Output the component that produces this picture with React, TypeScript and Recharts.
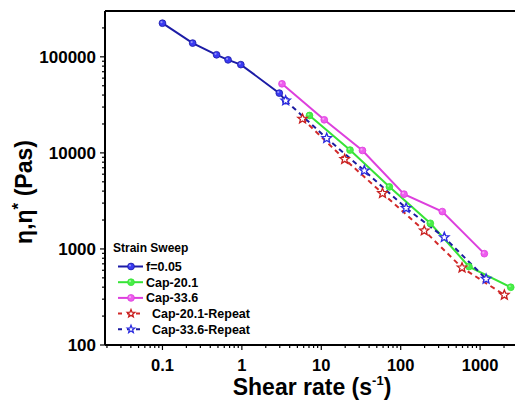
import React from 'react'
import { LineChart, Line, XAxis, YAxis, ReferenceLine, Label } from 'recharts'

// shear rate (1/s) and viscosity (Pas)
const fRate = [0.1, 0.24, 0.48, 0.67, 0.97, 2.96, 3.56]
const fVisc = [224000, 139000, 105000, 93000, 83000, 41900, 35000]

const cap20Rate = [7.1, 23, 72, 236, 724, 2430]
const cap20Visc = [24500, 10700, 4430, 1850, 655, 399]

const cap33Rate = [3.2, 10.9, 33, 110, 334, 1130]
const cap33Visc = [52400, 22100, 10600, 3720, 2450, 893]

const cap20RepRate = [5.8, 19.7, 59, 198, 592, 2020]
const cap20RepVisc = [22600, 8600, 3800, 1550, 638, 332]

const cap33RepRate = [3.56, 11.7, 34.8, 117, 354, 1190]
const cap33RepVisc = [35000, 14200, 6540, 2660, 1320, 487]

const xMajor = [0.1, 1, 10, 100, 1000]
const yMajor = [100, 1000, 10000, 100000]
const xDomain = [0.0189, 3000]
const yDomain = [100, 300000]

const legendTitle = 'Strain Sweep'

const FONT = '"Liberation Sans", Arial, sans-serif'

const withMinors = (majors: number[], lo: number, hi: number) => {
  const out: number[] = [...majors]
  const decades = [0.01, ...majors]
  decades.forEach((d) => {
    for (let k = 2; k <= 9; k++) {
      const v = +(d * k).toPrecision(6)
      if (v > lo && v < hi) out.push(v)
    }
  })
  return out.sort((a, b) => a - b)
}

const xTicks = withMinors(xMajor, xDomain[0], xDomain[1])
const yTicks = withMinors(yMajor, yDomain[0], yDomain[1])

const toPts = (xs: number[], ys: number[]) => xs.map((x, i) => ({ x, y: ys[i] }))

const XTick = (props: any) => {
  const { x, y, payload } = props
  const major = xMajor.includes(payload.value)
  return (
    <g>
      <line x1={x} x2={x} y1={y} y2={y + (major ? 5 : 3)} stroke="#000" strokeWidth={1.2} />
      {major && (
        <text x={x} y={y + 26} textAnchor="middle" fontFamily={FONT} fontWeight="bold" fontSize={16.5} fill="#000">
          {payload.value}
        </text>
      )}
    </g>
  )
}

const YTick = (props: any) => {
  const { x, y, payload } = props
  const major = yMajor.includes(payload.value)
  return (
    <g>
      <line x1={x - (major ? 5 : 3)} x2={x} y1={y} y2={y} stroke="#000" strokeWidth={1.2} />
      {major && (
        <text x={x - 9} y={y + 6} textAnchor="end" fontFamily={FONT} fontWeight="bold" fontSize={17} fill="#000">
          {payload.value}
        </text>
      )}
    </g>
  )
}

const ballDot = (fill: string, stroke: string) => (props: any) => {
  const { cx, cy, index } = props
  if (cx == null || cy == null) return <g key={index} />
  return (
    <g key={index}>
      <circle cx={cx} cy={cy} r={3.4} fill={fill} stroke={stroke} strokeWidth={0.8} />
      <circle cx={cx - 1} cy={cy - 1} r={1.1} fill="#fff" opacity={0.45} />
    </g>
  )
}

const starPath = (cx: number, cy: number, ro: number, ri: number) => {
  let d = ''
  for (let i = 0; i < 10; i++) {
    const r = i % 2 === 0 ? ro : ri
    const a = -Math.PI / 2 + (i * Math.PI) / 5
    d += (i === 0 ? 'M' : 'L') + (cx + r * Math.cos(a)).toFixed(2) + ',' + (cy + r * Math.sin(a)).toFixed(2)
  }
  return d + 'Z'
}

const starDot = (stroke: string, ro = 5) => (props: any) => {
  const { cx, cy, index } = props
  if (cx == null || cy == null) return <g key={index} />
  return <path key={index} d={starPath(cx, cy, ro, ro * 0.44)} fill="#fff" stroke={stroke} strokeWidth={1.3} />
}

type Series = {
  name: string
  rate: number[]
  visc: number[]
  color: string
  marker: string
  dash?: string
  star?: boolean
}

const series: Series[] = [
  { name: 'f=0.05', rate: fRate, visc: fVisc, color: '#1c1ca6', marker: '#3a3af2' },
  { name: 'Cap-20.1', rate: cap20Rate, visc: cap20Visc, color: '#36e336', marker: '#48ee48' },
  { name: 'Cap-33.6', rate: cap33Rate, visc: cap33Visc, color: '#dd3fdd', marker: '#ee5cee' },
  { name: 'Cap-20.1-Repeat', rate: cap20RepRate, visc: cap20RepVisc, color: '#d22a2a', marker: '#c81e1e', dash: '5 4', star: true },
  { name: 'Cap-33.6-Repeat', rate: cap33RepRate, visc: cap33RepVisc, color: '#1c1ca0', marker: '#2b2be0', dash: '5 4', star: true },
]

const YTitle = () => (
  <text transform="translate(32,192) rotate(-90)" textAnchor="middle" fontFamily={FONT} fontWeight="bold" fontSize={23} fill="#000">
    η,η<tspan dy={-8} fontSize={17}>*</tspan>
    <tspan dy={8}> (Pas)</tspan>
  </text>
)

const XTitle = () => (
  <text x={312} y={395} textAnchor="middle" fontFamily={FONT} fontWeight="bold" fontSize={23} fill="#000">
    Shear rate (s<tspan dy={-10} fontSize={13}>-1</tspan>
    <tspan dy={10}>)</tspan>
  </text>
)

const LegendBox = () => (
  <svg width={200} height={120} style={{ position: 'absolute', left: 100, top: 232 }}>
    <text x={13} y={20} fontFamily={FONT} fontWeight="bold" fontSize={12} fill="#000">
      {legendTitle}
    </text>
    {series.map((s, i) => {
      const cy = 34.5 + i * 15.7
      return (
        <g key={s.name}>
          <line x1={18} x2={43} y1={cy} y2={cy} stroke={s.color} strokeWidth={2} strokeDasharray={s.dash ? '4 5' : undefined} />
          {s.star ? starDot(s.marker, 4)({ cx: 31, cy, index: 0 }) : ballDot(s.marker, s.color)({ cx: 31, cy, index: 0 })}
          <text x={s.star ? 52 : 46} y={cy + 4.5} fontFamily={FONT} fontWeight="bold" fontSize={12.5} fill="#000">
            {s.name}
          </text>
        </g>
      )
    })}
  </svg>
)

export default function App() {
  return (
    <div style={{ position: 'absolute', left: 0, top: 0, width: 515, height: 403, overflow: 'hidden', background: '#fff' }}>
      <LineChart width={530} height={403} margin={{ top: 11, right: 12, left: 0, bottom: 18 }}>
        <XAxis
          dataKey="x"
          type="number"
          scale="log"
          domain={xDomain}
          allowDataOverflow
          ticks={xTicks}
          interval={0}
          tick={<XTick />}
          tickLine={false}
          tickSize={0}
          tickMargin={0}
          height={40}
          axisLine={{ stroke: '#000', strokeWidth: 2 }}
        >
          <Label content={<XTitle />} />
        </XAxis>
        <YAxis
          type="number"
          scale="log"
          domain={yDomain}
          allowDataOverflow
          ticks={yTicks}
          interval={0}
          tick={<YTick />}
          tickLine={false}
          tickSize={0}
          tickMargin={0}
          width={105}
          axisLine={{ stroke: '#000', strokeWidth: 2 }}
        >
          <Label content={<YTitle />} />
        </YAxis>
        <ReferenceLine y={yDomain[1]} stroke="#000" strokeWidth={2} />
        {series.map((s) => (
          <Line
            key={s.name}
            name={s.name}
            data={toPts(s.rate, s.visc)}
            dataKey="y"
            type="linear"
            stroke={s.color}
            strokeWidth={2}
            strokeDasharray={s.dash}
            dot={s.star ? starDot(s.marker) : ballDot(s.marker, s.color)}
            activeDot={false}
            isAnimationActive={false}
          />
        ))}
      </LineChart>
      <LegendBox />
    </div>
  )
}
